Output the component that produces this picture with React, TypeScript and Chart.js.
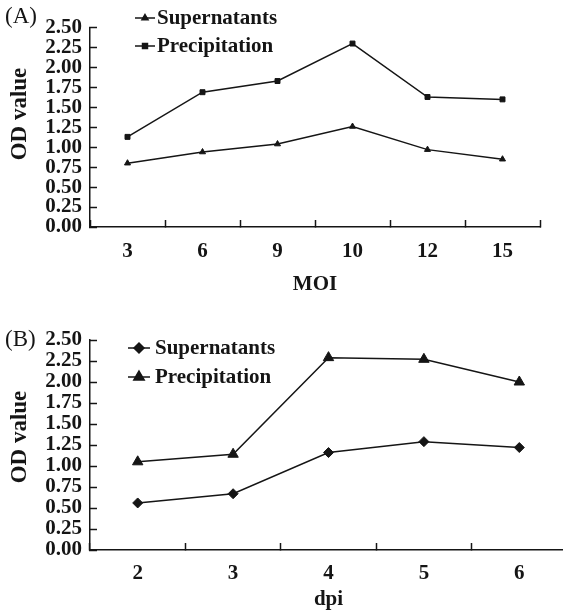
import React, { useEffect, useRef } from 'react';
import { Chart, registerables } from 'chart.js';
import { drawPoint } from 'chart.js/helpers';

Chart.register(...registerables);

// ---- Data ----
const moiLabels = ['3', '6', '9', '10', '12', '15'];
const moiSupernatants = [0.8, 0.94, 1.04, 1.26, 0.97, 0.85];
const moiPrecipitation = [1.13, 1.69, 1.83, 2.3, 1.63, 1.6];

const dpiLabels = ['2', '3', '4', '5', '6'];
const dpiSupernatants = [0.56, 0.67, 1.16, 1.29, 1.22];
const dpiPrecipitation = [1.05, 1.14, 2.29, 2.27, 2.0];

const yTickValues = [0, 0.25, 0.5, 0.75, 1.0, 1.25, 1.5, 1.75, 2.0, 2.25, 2.5];

const INK = '#151515';
const FONT = "'Liberation Serif', 'Times New Roman', serif";

type LegendItem = { label: string; style: string; radius: number };

type PanelCfg = {
  panel: string;
  panelY: number;
  titleY: number;
  legend: LegendItem[];
  lineX0: number;
  lineX1: number;
  textX: number;
  legendYs: number[];
};

function makeOverlay(cfg: PanelCfg) {
  return {
    id: 'overlay' + cfg.panel,
    afterDraw(chart: any) {
      const ctx = chart.ctx as CanvasRenderingContext2D;
      ctx.save();
      ctx.fillStyle = INK;
      ctx.strokeStyle = INK;
      // panel letter
      ctx.font = `23px ${FONT}`;
      ctx.textAlign = 'left';
      ctx.textBaseline = 'middle';
      ctx.fillText(cfg.panel, 5, cfg.panelY);
      // y title
      ctx.save();
      ctx.translate(20, cfg.titleY);
      ctx.rotate(-Math.PI / 2);
      ctx.font = `bold 23px ${FONT}`;
      ctx.textAlign = 'center';
      ctx.textBaseline = 'middle';
      ctx.fillText('OD value', 0, 0);
      ctx.restore();
      // legend
      cfg.legend.forEach((item, i) => {
        const y = cfg.legendYs[i];
        ctx.lineWidth = 1.5;
        ctx.beginPath();
        ctx.moveTo(cfg.lineX0, y);
        ctx.lineTo(cfg.lineX1, y);
        ctx.stroke();
        ctx.fillStyle = INK;
        drawPoint(
          ctx,
          { pointStyle: item.style as any, radius: item.radius, rotation: 0, borderWidth: 1 },
          (cfg.lineX0 + cfg.lineX1) / 2,
          y
        );
        ctx.font = `bold 21px ${FONT}`;
        ctx.textAlign = 'left';
        ctx.textBaseline = 'middle';
        ctx.fillStyle = INK;
        ctx.fillText(item.label, cfg.textX, y + 1);
      });
      ctx.restore();
    },
  };
}

function buildConfig(
  labels: string[],
  sup: number[],
  pre: number[],
  supStyle: string,
  supR: number,
  preStyle: string,
  preR: number,
  xTitle: string,
  padding: { left: number; top: number; right: number; bottom: number },
  xHeight: number,
  xTitlePad: number,
  xTickPad: number,
  overlay: any
): any {
  return {
    type: 'line',
    data: {
      labels,
      datasets: [
        {
          label: 'Supernatants',
          data: sup,
          borderColor: INK,
          backgroundColor: INK,
          borderWidth: 1.5,
          pointStyle: supStyle,
          pointRadius: supR,
          pointBorderWidth: 1,
          tension: 0,
          clip: false,
        },
        {
          label: 'Precipitation',
          data: pre,
          borderColor: INK,
          backgroundColor: INK,
          borderWidth: 1.5,
          pointStyle: preStyle,
          pointRadius: preR,
          pointBorderWidth: 1,
          tension: 0,
          clip: false,
        },
      ],
    },
    options: {
      animation: false,
      responsive: false,
      maintainAspectRatio: false,
      layout: { padding },
      plugins: {
        legend: { display: false },
        tooltip: { enabled: false },
      },
      scales: {
        x: {
          type: 'category',
          offset: true,
          grid: {
            offset: true,
            drawOnChartArea: false,
            drawTicks: true,
            tickLength: -7,
            tickWidth: 1.5,
            tickColor: INK,
          },
          border: { display: true, color: INK, width: 1.5 },
          ticks: {
            color: INK,
            padding: xTickPad,
            maxRotation: 0,
            font: { family: FONT, size: 21, weight: 'bold' },
          },
          title: {
            display: true,
            text: xTitle,
            color: INK,
            padding: { top: 0, bottom: xTitlePad },
            font: { family: FONT, size: 21, weight: 'bold' },
          },
          afterFit(scale: any) {
            scale.height = xHeight;
          },
        },
        y: {
          min: yTickValues[0],
          max: yTickValues[yTickValues.length - 1],
          grid: {
            drawOnChartArea: false,
            drawTicks: true,
            tickLength: -7,
            tickWidth: 1.5,
            tickColor: INK,
          },
          border: { display: true, color: INK, width: 1.5 },
          ticks: {
            color: INK,
            padding: 15,
            autoSkip: false,
            callback: (v: any) => Number(v).toFixed(2),
            font: { family: FONT, size: 21, weight: 'bold' },
          },
          afterBuildTicks(scale: any) {
            scale.ticks = yTickValues.map((v) => ({ value: v }));
          },
          afterFit(scale: any) {
            scale.width = 90;
          },
        },
      },
    },
    plugins: [overlay],
  };
}

function Panel(props: { config: any; width: number; height: number; top: number }) {
  const ref = useRef<HTMLCanvasElement | null>(null);
  useEffect(() => {
    if (!ref.current) return;
    const chart = new Chart(ref.current, props.config);
    return () => chart.destroy();
  }, []);
  return (
    <canvas
      ref={ref}
      width={props.width}
      height={props.height}
      style={{ position: 'absolute', left: 0, top: props.top, width: props.width, height: props.height }}
    />
  );
}

export default function App() {
  const cfgA = buildConfig(
    moiLabels,
    moiSupernatants,
    moiPrecipitation,
    'triangle',
    3.5,
    'rect',
    3.5,
    'MOI',
    { left: 0, top: 15, right: 23, bottom: 0 },
    73,
    3,
    19,
    makeOverlay({
      panel: '(A)',
      panelY: 17,
      titleY: 114,
      legend: [
        { label: 'Supernatants', style: 'triangle', radius: 3.5 },
        { label: 'Precipitation', style: 'rect', radius: 3.5 },
      ],
      lineX0: 135,
      lineX1: 155,
      textX: 157,
      legendYs: [18, 46],
    })
  );
  const cfgB = buildConfig(
    dpiLabels,
    dpiSupernatants,
    dpiPrecipitation,
    'rectRot',
    5,
    'triangle',
    6,
    'dpi',
    { left: 0, top: 40, right: 13, bottom: 0 },
    63,
    1,
    18,
    makeOverlay({
      panel: '(B)',
      panelY: 40,
      titleY: 137,
      legend: [
        { label: 'Supernatants', style: 'rectRot', radius: 5 },
        { label: 'Precipitation', style: 'triangle', radius: 6 },
      ],
      lineX0: 128,
      lineX1: 150,
      textX: 155,
      legendYs: [48, 77],
    })
  );
  return (
    <div
      style={{
        position: 'absolute',
        left: 0,
        top: 0,
        width: 563,
        height: 613,
        overflow: 'hidden',
        background: '#fff',
      }}
    >
      <Panel config={cfgA} width={563} height={300} top={0} />
      <Panel config={cfgB} width={580} height={313} top={300} />
    </div>
  );
}
